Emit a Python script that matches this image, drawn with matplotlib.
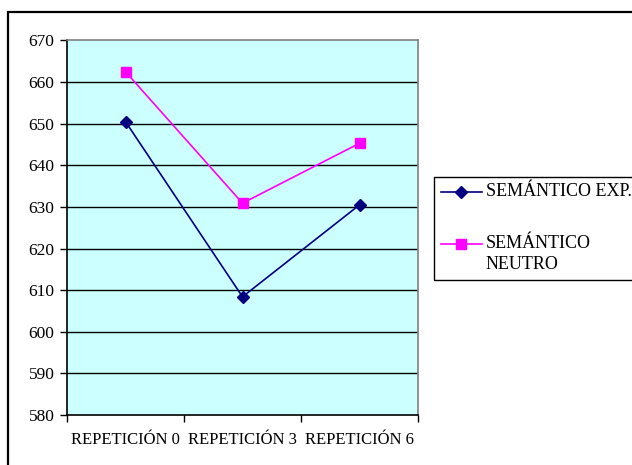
import matplotlib
matplotlib.use("Agg")
import matplotlib.pyplot as plt
from matplotlib.patches import Rectangle
from matplotlib.lines import Line2D

categories = ["REPETICIÓN 0", "REPETICIÓN 3", "REPETICIÓN 6"]
semantico_exp = [650.5, 608.4, 630.5]
semantico_neutro = [662.5, 630.9, 645.3]
y_ticks = [580, 590, 600, 610, 620, 630, 640, 650, 660, 670]

series = [
    ("SEMÁNTICO EXP.", semantico_exp, "#000080", "D", 6.5),
    ("SEMÁNTICO\nNEUTRO", semantico_neutro, "#FF00FF", "s", 7.5),
]

plt.rcParams["font.family"] = ["Liberation Serif", "DejaVu Serif"]

W, H = 632, 465
fig = plt.figure(figsize=(W / 100, H / 100), dpi=100)
fig.patch.set_facecolor("white")

# outer chart border (runs off the right and bottom edges)
fig.add_artist(Rectangle((8 / W, -0.05), 1.1, 1 - 12 / H + 0.05,
                         transform=fig.transFigure, fill=False,
                         edgecolor="black", linewidth=1.6))

ax = fig.add_axes([67 / W, 1 - 415 / H, (418 - 67) / W, (415 - 40.5) / H])
ax.set_facecolor("#CCFFFF")

x = list(range(len(categories)))
for label, values, color, marker, ms in series:
    ax.plot(x, values, color=color, linewidth=1.2, marker=marker,
            markersize=ms, markerfacecolor=color, markeredgecolor=color,
            label=label, zorder=3)

ax.set_xlim(-0.5, len(categories) - 0.5)
ax.set_ylim(580, 670)
ax.set_yticks(y_ticks)
ax.set_yticklabels([str(v) for v in y_ticks], fontsize=12.5)
for v in y_ticks[1:-1]:
    ax.axhline(v, color="black", linewidth=1.0, zorder=1)

ax.set_xticks(x)
ax.set_xticklabels(categories, fontsize=12)
ax.tick_params(axis="x", which="major", length=0, pad=12)
ax.set_xticks([i - 0.5 for i in range(len(categories) + 1)], minor=True)
ax.tick_params(axis="x", which="minor", length=5, width=1, color="#000000",
               direction="out")
ax.tick_params(axis="y", length=5, width=1, direction="out", pad=4)

for side in ["right", "top"]:
    ax.spines[side].set_color("#808080")
    ax.spines[side].set_linewidth(1.2)
for side in ["left", "bottom"]:
    ax.spines[side].set_color("#000000")
    ax.spines[side].set_linewidth(1.2)

# legend: frame extends past the right edge
fig.add_artist(Rectangle((434 / W, 1 - 280 / H), 0.5, (280 - 177) / H,
                         transform=fig.transFigure, fill=False,
                         edgecolor="black", linewidth=1.0))
entry_rows = [192, 244]
for (label, values, color, marker, ms), row in zip(series, entry_rows):
    yf = 1 - row / H
    fig.add_artist(Line2D([441 / W, 482 / W], [yf, yf],
                          transform=fig.transFigure, color=color,
                          linewidth=1.2))
    fig.add_artist(Line2D([461 / W], [yf], transform=fig.transFigure,
                          color=color, marker=marker, markersize=ms,
                          linestyle="none"))
    fig.text(486 / W, 1 - (row - 9) / H, label, fontsize=13,
             ha="left", va="top", linespacing=1.3)

fig.savefig("out.png", dpi=100)
